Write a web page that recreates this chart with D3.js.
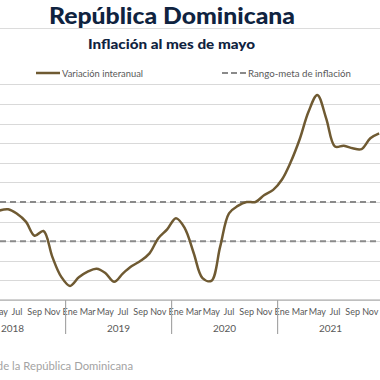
<!DOCTYPE html>
<html>
<head>
<meta charset="utf-8">
<script src="https://cdn.jsdelivr.net/npm/d3@7"></script>
<style>
  html, body { margin: 0; padding: 0; background: #fff; overflow: hidden; }
  svg { display: block; }
</style>
</head>
<body>
<svg id="chart" width="380" height="380"></svg>
<script>
// ---- data ----
const monthNames = ["Ene","Feb","Mar","Abr","May","Jun","Jul","Ago","Sep","Oct","Nov","Dic"];
const years = [2018, 2019, 2020, 2021];
// index 0 = Ene 2018; series starts May 2018 (index 4)
const startIndex = 4;
const inflation = [
  4.56, 4.63, 4.40, 4.00, 3.28, 3.52, 2.20, 1.19,   // May-Dic 2018
  0.72, 1.16, 1.45, 1.60, 1.38, 0.93, 1.36, 1.73, 2.00, 2.38, 3.15, 3.60, // 2019
  4.17, 3.66, 2.40, 1.12, 0.98, 2.72, 4.42, 4.80, 5.00, 5.00, 5.36, 5.62, // 2020
  6.15, 7.05, 8.20, 9.60, 10.46, 9.27, 7.83, 7.87, 7.74, 7.70, 8.25, 8.50  // 2021
];
const targetRange = [3, 5];
const yTicks = [0,1,2,3,4,5,6,7,8,9,10,11];
const legendLabels = ["Variación interanual", "Rango-meta de inflación"];
const titleText = "República Dominicana";
const subtitleText = "Inflación al mes de mayo";
const sourceText = "Fuente: Banco Central de la República Dominicana";

// ---- layout ----
const svg = d3.select("#chart");
const font = "Lato, 'Noto Sans', sans-serif";
const x = d3.scaleLinear().domain([12, 36]).range([70, 282]);
const y = d3.scaleLinear().domain([0, 11]).range([300, 84.4]);
const left = -60, right = 440;

// title
svg.append("text").attr("x", 49).attr("y", 23.5)
  .attr("font-family", font).attr("font-weight", 900).attr("font-size", 23)
  .attr("textLength", 246).attr("lengthAdjust", "spacingAndGlyphs")
  .attr("fill", "#0f2340").text(titleText);
svg.append("line").attr("x1", 0).attr("x2", 380).attr("y1", 28.5).attr("y2", 28.5)
  .attr("stroke", "#dcdcdc").attr("stroke-width", 1);
svg.append("text").attr("x", 88).attr("y", 48.5)
  .attr("font-family", font).attr("font-weight", 900).attr("font-size", 12.5)
  .attr("textLength", 167).attr("lengthAdjust", "spacingAndGlyphs")
  .attr("fill", "#0f2340").text(subtitleText);

// gridlines
svg.append("g").selectAll("line").data(yTicks).join("line")
  .attr("x1", left).attr("x2", right)
  .attr("y1", d => Math.round(y(d)) + 0.5).attr("y2", d => Math.round(y(d)) + 0.5)
  .attr("stroke", "#d9d9d9").attr("stroke-width", 1);

// target range dashed lines
svg.append("g").selectAll("line").data(targetRange).join("line")
  .attr("x1", left).attr("x2", right)
  .attr("y1", d => y(d)).attr("y2", d => y(d))
  .attr("stroke", "#8a8a8a").attr("stroke-width", 2).attr("stroke-dasharray", "6,4");

// series line
const pts = inflation.map((v, i) => [startIndex + i, v]);
const line = d3.line().x(d => x(d[0])).y(d => y(d[1])).curve(d3.curveCatmullRom.alpha(0.5));
svg.append("path").datum(pts).attr("d", line)
  .attr("fill", "none").attr("stroke", "#6f5a32").attr("stroke-width", 2.5)
  .attr("stroke-linejoin", "round");

// x axis
svg.append("line").attr("x1", left).attr("x2", right).attr("y1", y(0)).attr("y2", y(0))
  .attr("stroke", "#a6a6a6").attr("stroke-width", 1.2);

const monthTicks = d3.range(0, years.length * 12).filter(m => m % 2 === 0);
svg.append("g").selectAll("text").data(monthTicks).join("text")
  .attr("x", d => x(d)).attr("y", y(0) + 15).attr("text-anchor", "middle")
  .attr("font-family", font).attr("font-size", 9).attr("fill", "#595959")
  .text(d => monthNames[d % 12]);

// year separators
const seps = d3.range(0, years.length + 1).map(k => k * 12 - 0.5);
svg.append("g").selectAll("line").data(seps).join("line")
  .attr("x1", d => x(d)).attr("x2", d => x(d))
  .attr("y1", y(0)).attr("y2", y(0) + 34)
  .attr("stroke", "#a6a6a6").attr("stroke-width", 1.2);

// year labels
svg.append("g").selectAll("text").data(years).join("text")
  .attr("x", (d, i) => x(i * 12 + 5.5)).attr("y", y(0) + 32).attr("text-anchor", "middle")
  .attr("font-family", font).attr("font-size", 10).attr("fill", "#595959")
  .text(d => d);

// legend
const lg = svg.append("g");
lg.append("line").attr("x1", 36).attr("x2", 60).attr("y1", 73).attr("y2", 73)
  .attr("stroke", "#6f5a32").attr("stroke-width", 2.5);
lg.append("text").attr("x", 62).attr("y", 76.5)
  .attr("font-family", font).attr("font-size", 9.5).attr("fill", "#595959")
  .attr("textLength", 81).attr("lengthAdjust", "spacingAndGlyphs").text(legendLabels[0]);
lg.append("line").attr("x1", 222).attr("x2", 247).attr("y1", 73).attr("y2", 73)
  .attr("stroke", "#8a8a8a").attr("stroke-width", 2).attr("stroke-dasharray", "6,3");
lg.append("text").attr("x", 248).attr("y", 76.5)
  .attr("font-family", font).attr("font-size", 9.5).attr("fill", "#595959")
  .attr("textLength", 103).attr("lengthAdjust", "spacingAndGlyphs").text(legendLabels[1]);

// source
svg.append("text").attr("x", 133).attr("y", 370).attr("text-anchor", "end")
  .attr("font-family", font).attr("font-size", 11.3).attr("fill", "#a3a3a3").text(sourceText);
</script>
</body>
</html>
